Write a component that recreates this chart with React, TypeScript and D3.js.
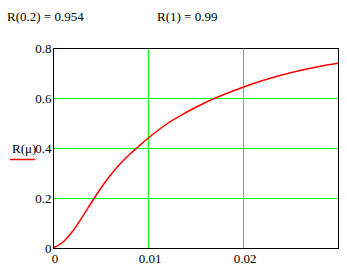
import React from "react";
import * as d3 from "d3";

const muValues = [0, 0.001, 0.002, 0.003, 0.004, 0.005, 0.006, 0.007, 0.008, 0.009, 0.01, 0.011, 0.012, 0.014, 0.016, 0.018, 0.02, 0.022, 0.024, 0.026, 0.028, 0.03];
const rValues = [0, 0.022, 0.064, 0.119, 0.179, 0.237, 0.289, 0.334, 0.372, 0.406, 0.439, 0.469, 0.497, 0.542, 0.581, 0.614, 0.643, 0.669, 0.691, 0.71, 0.726, 0.739];
const xTicks = [0, 0.01, 0.02];
const xTickLabels = ["0", "0.01", "0.02"];
const yTicks = [0, 0.2, 0.4, 0.6, 0.8];
const yTickLabels = ["0", "0.2", "0.4", "0.6", "0.8"];
const xGrid = [0.01, 0.02];
const yGrid = [0.2, 0.4, 0.6];
const headerTexts = ["R(0.2) = 0.954", "R(1) = 0.99"];

export default function App() {
  const W = 347, H = 274;
  const left = 53, right = 338, top = 48, bottom = 248;
  const x = d3.scaleLinear().domain([0, 0.03]).range([left, right]);
  const y = d3.scaleLinear().domain([0, 0.8]).range([bottom, top]);
  const pts: [number, number][] = muValues.map((m, i) => [m, rValues[i]]);
  const line = d3.line<[number, number]>().x(d => x(d[0])).y(d => y(d[1])).curve(d3.curveMonotoneX);
  const font = "'Liberation Serif', 'Times New Roman', serif";
  return (
    <svg width={W} height={H} style={{ position: "absolute", left: 0, top: 0, background: "#fff" }} fontFamily={font}>
      <rect x={0} y={0} width={W} height={H} fill="#fff" />
      <text x={7} y={21} fontSize={13} fill="#000">{headerTexts[0]}</text>
      <text x={157} y={21} fontSize={13} fill="#000">{headerTexts[1]}</text>
      {xGrid.map((v, i) => (
        <line key={"xg" + i} x1={x(v)} x2={x(v)} y1={top} y2={bottom} stroke="#00ff00" strokeWidth={1} shapeRendering="crispEdges" />
      ))}
      {yGrid.map((v, i) => (
        <line key={"yg" + i} x1={left} x2={right} y1={y(v)} y2={y(v)} stroke="#00ff00" strokeWidth={1} shapeRendering="crispEdges" />
      ))}
      <path d={line(pts) || ""} fill="none" stroke="#ff0000" strokeWidth={1.5} />
      <rect x={left} y={top} width={right - left} height={bottom - top} fill="none" stroke="#000" strokeWidth={1} shapeRendering="crispEdges" />
      {yTicks.map((v, i) => (
        <text key={"yt" + i} x={left - 1.5} y={y(v) + 4.5} fontSize={13} textAnchor="end" fill="#000">{yTickLabels[i]}</text>
      ))}
      {xTicks.map((v, i) => (
        <text key={"xt" + i} x={x(v) + 2} y={263} fontSize={13} textAnchor="middle" fill="#000">{xTickLabels[i]}</text>
      ))}
      <text x={12} y={153} fontSize={13} fill="#000">R(μ)</text>
      <line x1={10} x2={35} y1={159.5} y2={159.5} stroke="#ff0000" strokeWidth={1.5} />
    </svg>
  );
}
